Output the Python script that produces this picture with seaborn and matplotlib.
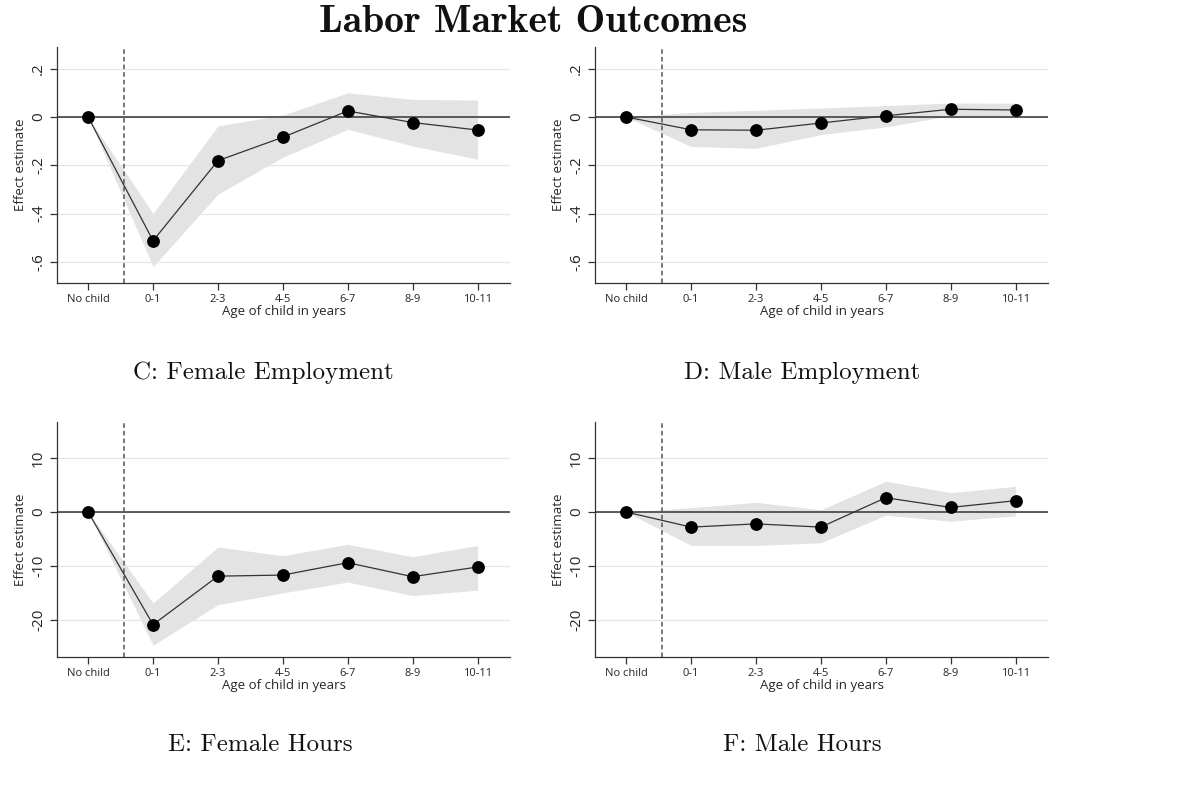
import matplotlib
matplotlib.use("Agg")
import matplotlib.pyplot as plt
import seaborn as sns
import pandas as pd

# age groups on the x axis
ages = ["No child", "0-1", "2-3", "4-5", "6-7", "8-9", "10-11"]

# C: female employment
fem_emp = [0, -0.513, -0.181, -0.084, 0.025, -0.023, -0.054]
fem_emp_lo = [0, -0.62, -0.32, -0.167, -0.051, -0.12, -0.175]
fem_emp_hi = [0, -0.40, -0.037, 0.008, 0.10, 0.073, 0.07]

# D: male employment
male_emp = [0, -0.053, -0.055, -0.025, 0.005, 0.032, 0.029]
male_emp_lo = [0, -0.122, -0.13, -0.073, -0.041, 0.005, 0.003]
male_emp_hi = [0, 0.019, 0.028, 0.037, 0.047, 0.058, 0.057]

# E: female hours
fem_hrs = [0, -20.9, -11.9, -11.7, -9.4, -12.0, -10.2]
fem_hrs_lo = [0, -24.7, -17.2, -15.0, -13.0, -15.5, -14.5]
fem_hrs_hi = [0, -16.9, -6.5, -8.1, -6.0, -8.3, -6.2]

# F: male hours
male_hrs = [0, -2.8, -2.2, -2.8, 2.65, 0.85, 2.1]
male_hrs_lo = [0, -6.2, -6.2, -5.7, -0.6, -1.7, -0.7]
male_hrs_hi = [0, 0.8, 1.8, 0.4, 5.7, 3.6, 4.75]

emp_ticks = [-0.6, -0.4, -0.2, 0, 0.2]
emp_labels = ["-.6", "-.4", "-.2", "0", ".2"]
hrs_ticks = [-20, -10, 0, 10]
hrs_labels = ["-20", "-10", "0", "10"]

sns.set_theme(style="white")
plt.rcParams["font.family"] = ["Open Sans", "DejaVu Sans"]

fig = plt.figure(figsize=(12, 7.85), dpi=100)

W, H = 1200, 785
panels = [
    # (left px, top px, right px, bottom px, est, lo, hi, ylim, ticks, labels, caption, caption x, caption y)
    (57, 47, 510, 283, fem_emp, fem_emp_lo, fem_emp_hi, (-0.688, 0.29), emp_ticks, emp_labels,
     "C: Female Employment", 263, 373),
    (595, 47, 1048, 283, male_emp, male_emp_lo, male_emp_hi, (-0.688, 0.29), emp_ticks, emp_labels,
     "D: Male Employment", 802, 373),
    (57, 422, 510, 657, fem_hrs, fem_hrs_lo, fem_hrs_hi, (-26.9, 16.7), hrs_ticks, hrs_labels,
     "E: Female Hours", 260, 745),
    (595, 422, 1048, 657, male_hrs, male_hrs_lo, male_hrs_hi, (-26.9, 16.7), hrs_ticks, hrs_labels,
     "F: Male Hours", 802, 745),
]

x = list(range(len(ages)))

for l, t, r, b, est, lo, hi, ylim, ticks, labels, caption, cx, cy in panels:
    ax = fig.add_axes([l / W, 1 - b / H, (r - l) / W, (b - t) / H])
    df = pd.DataFrame({"x": x, "est": est})

    for yt in ticks:
        ax.axhline(yt, color="#e6e6e6", lw=0.9, zorder=0)
    ax.fill_between(x, lo, hi, color="#e3e3e3", lw=0, zorder=1)
    ax.axhline(0, color="#333333", lw=1.1, zorder=2)
    ax.axvline(0.55, color="#555555", lw=1.1, ls=(0, (3, 2)), zorder=2)
    sns.lineplot(data=df, x="x", y="est", ax=ax, color="#333333", lw=0.9, zorder=3)
    sns.scatterplot(data=df, x="x", y="est", ax=ax, color="black", s=85,
                    edgecolor="black", linewidth=0, zorder=4)

    ax.set_xlim(-0.48, 6.5)
    ax.set_ylim(*ylim)
    ax.set_xticks(x)
    ax.set_xticklabels(ages, fontsize=8)
    ax.set_yticks(ticks)
    ax.set_yticklabels(labels, fontsize=11, rotation=90, va="center")
    ax.tick_params(axis="both", direction="out", length=5, width=0.9, color="#333333",
                   left=True, bottom=True, pad=3)
    ax.set_xlabel("Age of child in years", fontsize=9.5, labelpad=0)
    ax.set_ylabel("Effect estimate", fontsize=9.5, labelpad=3)
    for side in ["top", "right"]:
        ax.spines[side].set_visible(False)
    for side in ["left", "bottom"]:
        ax.spines[side].set_color("#333333")
        ax.spines[side].set_linewidth(0.9)
    ax.grid(False)

    fig.text(cx / W, 1 - cy / H, caption, ha="center", va="center",
             fontsize=18, family="cmr10", color="#111111")

fig.text(533 / W, 1 - 22 / H, "Labor Market Outcomes", ha="center", va="center",
         fontsize=28.5, family="cmb10", color="#111111")

fig.savefig("out.png", dpi=100)
